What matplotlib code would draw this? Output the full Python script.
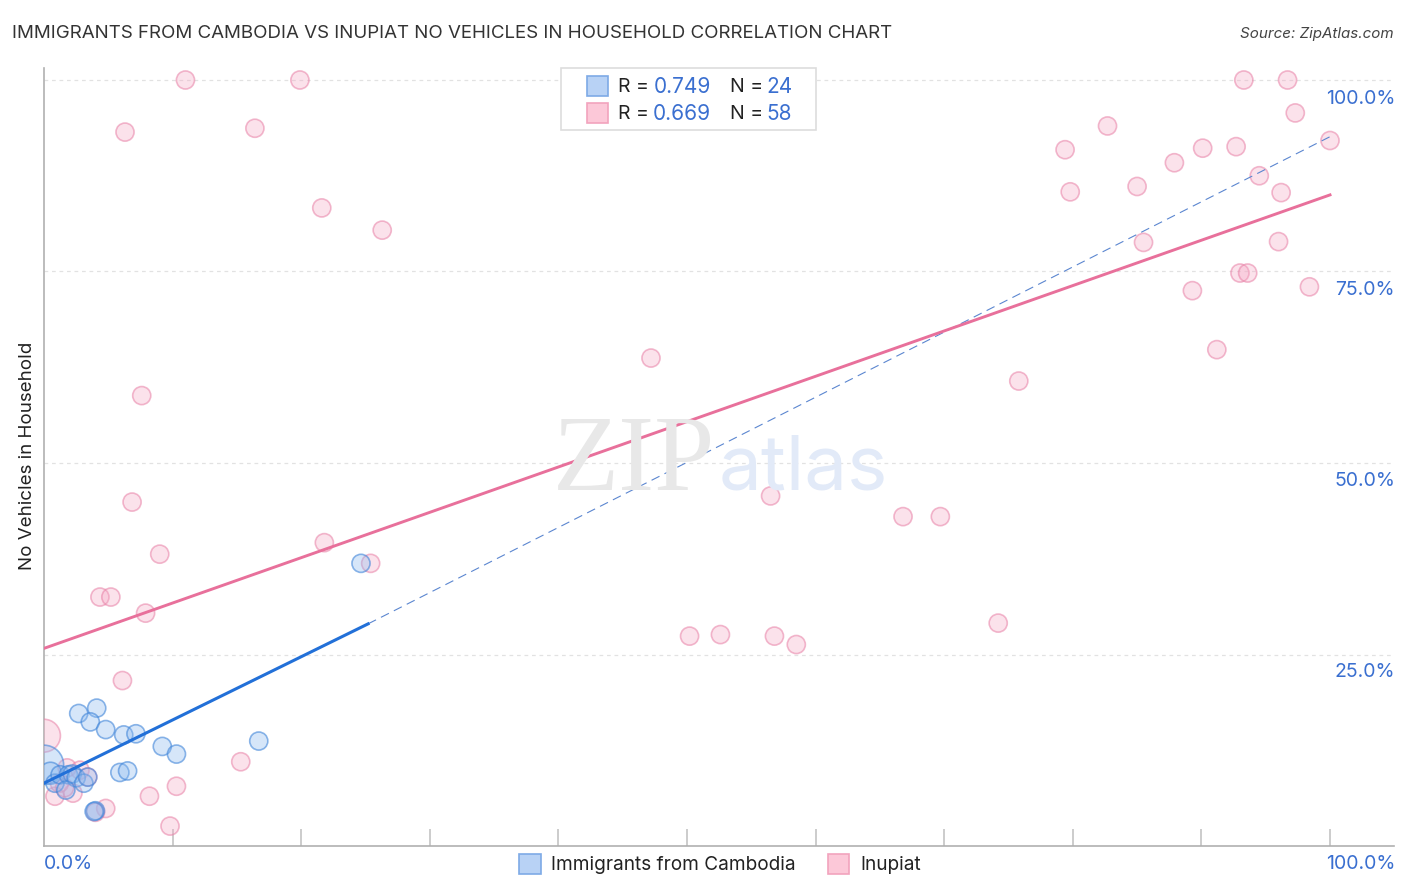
import matplotlib
matplotlib.use('Agg')
import matplotlib.pyplot as plt
from matplotlib.patches import Rectangle

plt.rcParams['font.family'] = ['Inter', 'DejaVu Sans']

# =========================
# DONNEES
# =========================
blue_x = [24.65, 16.7, 2.7, 4.1, 3.6, 4.8, 6.2, 7.15, 9.2, 10.3, 5.9, 6.5,
          0.0, 0.5, 0.85, 1.25, 1.9, 2.2, 2.5, 3.1, 3.4, 1.7, 4.0, 3.9]
blue_y = [36.9, 13.7, 17.3, 18.0, 16.2, 15.2, 14.5, 14.65, 13.0, 12.0, 9.6, 9.8,
          10.6, 9.5, 8.2, 9.3, 9.3, 9.4, 8.9, 8.2, 9.0, 7.3, 4.6, 4.5]
blue_s = [170] * 12 + [800, 250] + [170] * 10

pink_x = [11.0, 19.9, 6.3, 16.4, 21.6, 26.3, 7.6, 47.2, 6.85, 9.0, 21.8, 25.4,
          4.35, 5.2, 7.9, 6.1, 15.3, 10.3, 8.2, 9.8, 4.8, 4.0, 0.0, 0.85, 2.25,
          1.8, 2.8, 3.4, 1.2, 1.6, 56.5, 66.8, 69.7, 50.2, 52.6, 56.8, 58.5, 74.2,
          75.8, 91.2, 89.3, 93.0, 93.6, 98.4, 96.0, 85.5, 96.2, 79.8, 85.0, 94.5,
          87.9, 79.4, 90.1, 92.7, 82.7, 97.3, 100.0, 93.3, 96.7]
pink_y = [100, 100, 93.2, 93.7, 83.3, 80.4, 58.8, 63.7, 44.9, 38.1, 39.6, 36.9,
          32.5, 32.5, 30.4, 21.6, 11.0, 7.8, 6.5, 2.6, 4.9, 4.4, 14.4, 6.5, 6.9,
          10.2, 9.9, 9.0, 8.2, 7.6, 45.7, 43.0, 43.0, 27.4, 27.6, 27.4, 26.3, 29.1,
          60.7, 64.8, 72.5, 74.8, 74.8, 73.0, 78.9, 78.8, 85.3, 85.4, 86.1, 87.5,
          89.2, 90.9, 91.1, 91.3, 94.0, 95.7, 92.1, 100, 100]
pink_s = [170] * 22 + [560] + [170] * 36

blue_fit_x = [0, 25.2]
blue_fit_y = [8.2, 29.0]
blue_dash_x = [25.2, 100]
blue_dash_y = [29.0, 92.6]
pink_fit_x = [0, 100]
pink_fit_y = [25.8, 85.0]

y_ticks = [25, 50, 75, 100]
y_labels = ['25.0%', '50.0%', '75.0%', '100.0%']
x_ticks = [10, 20, 30, 40, 50, 60, 70, 80, 90, 100]

W, H = 1406, 892
BLUE_TXT = '#3a6fd0'

# repère en pixels de l'image
def fx(px):
    return px / W

def fy(py):
    return 1 - py / H

fig = plt.figure(figsize=(W / 100, H / 100), dpi=100)
ax = fig.add_axes([fx(44), fy(846), (1394 - 44) / W, (846 - 68) / H])
ax.set_xlim(0, 1350 / 12.86)
ax.set_ylim(0, 778 / 7.66)

for s in ['top', 'right']:
    ax.spines[s].set_visible(False)
for s in ['left', 'bottom']:
    ax.spines[s].set_color('#b0b0b0')
    ax.spines[s].set_linewidth(1.2)

ax.set_xticks(x_ticks)
ax.set_xticklabels([])
ax.set_yticks([])
ax.tick_params(axis='x', direction='in', length=12.5, width=1.2, color='#c4c4c4')

for v in y_ticks:
    ax.axhline(v, color='#e2e2e2', lw=0.9, ls=(0, (3, 3)), zorder=1)

# filigrane
fig.text(fx(553), fy(490), 'ZIP', family='Liberation Serif', fontsize=78,
         color='#e8e8e8', ha='left', va='baseline', zorder=0)
fig.text(fx(719), fy(490), 'atlas', family='Inter', fontsize=55,
         color='#e2eaf8', ha='left', va='baseline', zorder=0)

# =========================
# POINTS ET DROITES
# =========================
ax.scatter(pink_x, pink_y, s=pink_s, facecolor=(0.96, 0.66, 0.77, 0.33),
           edgecolor=(0.91, 0.50, 0.65, 0.55), linewidth=1.2, zorder=3)
ax.scatter(blue_x, blue_y, s=blue_s, facecolor=(0.55, 0.73, 0.94, 0.35),
           edgecolor=(0.25, 0.52, 0.85, 0.6), linewidth=1.2, zorder=3)

ax.plot(blue_dash_x, blue_dash_y, color='#5b86d0', lw=0.8, ls=(0, (8, 5)), zorder=4)
ax.plot(pink_fit_x, pink_fit_y, color='#e8709b', lw=2.1, zorder=5)
ax.plot(blue_fit_x, blue_fit_y, color='#2270d8', lw=2.2, zorder=5)

# =========================
# TEXTES
# =========================
fig.text(fx(12), fy(34), 'IMMIGRANTS FROM CAMBODIA VS INUPIAT NO VEHICLES IN HOUSEHOLD CORRELATION CHART',
         fontsize=13.5, color='#333333', ha='left', va='center')
fig.text(fx(1394), fy(34), 'Source: ZipAtlas.com', fontsize=10.9, style='italic',
         color='#444444', ha='right', va='center')
fig.text(fx(28), fy(456), 'No Vehicles in Household', fontsize=13.5, color='#222222',
         rotation=90, ha='center', va='center')

for py, lab in zip([672, 481, 290, 99], y_labels):
    fig.text(fx(1395), fy(py), lab, fontsize=14, color=BLUE_TXT, ha='right', va='center')
fig.text(fx(44), fy(864), '0.0%', fontsize=14, color=BLUE_TXT, ha='left', va='center')
fig.text(fx(1395), fy(864), '100.0%', fontsize=14, color=BLUE_TXT, ha='right', va='center')

# légende du haut
fig.add_artist(Rectangle((fx(561), fy(130)), 255 / W, 62 / H, transform=fig.transFigure,
                         facecolor='white', edgecolor='#dddddd', lw=1.2, zorder=6))

def swatch(px, py, w, h, face, edge):
    fig.add_artist(Rectangle((fx(px), fy(py + h)), w / W, h / H, transform=fig.transFigure,
                             facecolor=face, edgecolor=edge, lw=1.2, zorder=7))

swatch(587, 76, 21, 20, '#b8d2f5', '#7eaae6')
swatch(587, 103, 21, 20, '#fcc8d8', '#f2a3bd')

for py, r, n, rx in [(87, '0.749', '24', 654), (114, '0.669', '58', 653)]:
    fig.text(fx(618), fy(py), 'R =', fontsize=14, color='#222222', va='center', zorder=8)
    fig.text(fx(rx), fy(py), r, fontsize=15, color=BLUE_TXT, va='center', zorder=8)
    fig.text(fx(730), fy(py), 'N =', fontsize=14, color='#222222', va='center', zorder=8)
    fig.text(fx(766), fy(py), n, fontsize=15, color=BLUE_TXT, va='center', zorder=8)

# légende du bas
swatch(519, 854, 22, 20, '#b8d2f5', '#7eaae6')
swatch(828, 854, 21, 20, '#fcc8d8', '#f2a3bd')
fig.text(fx(551), fy(865), 'Immigrants from Cambodia', fontsize=13.7, color='#222222', va='center')
fig.text(fx(860), fy(865), 'Inupiat', fontsize=13.7, color='#222222', va='center')

fig.savefig('out.png', dpi=100)
